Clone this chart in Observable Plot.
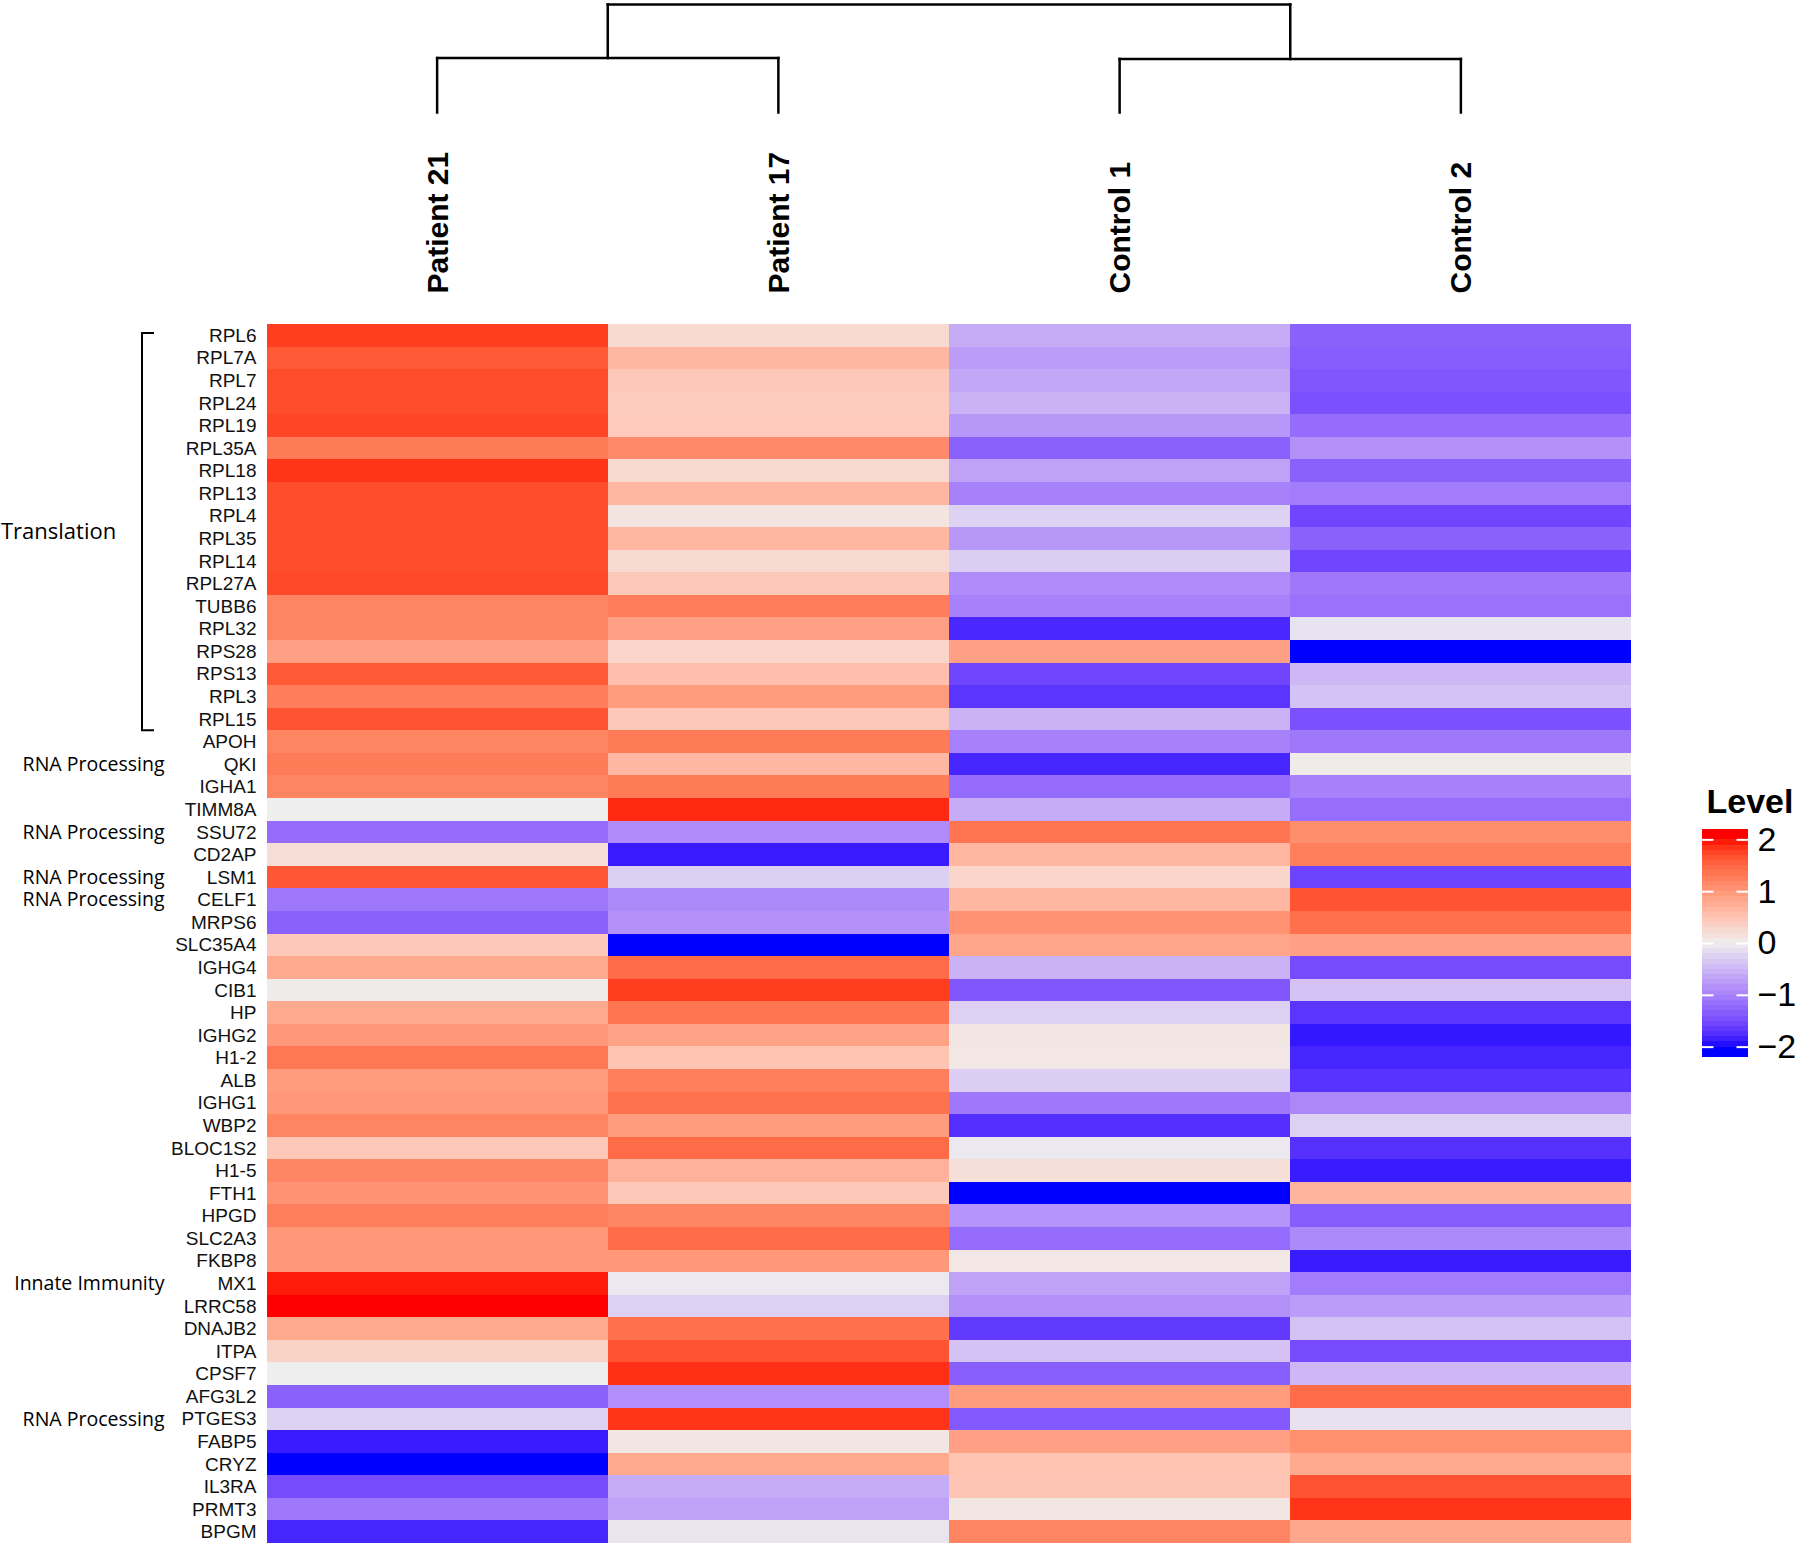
<!DOCTYPE html>
<html>
<head>
<meta charset="utf-8">
<script src="https://cdn.jsdelivr.net/npm/d3@7"></script>
<script src="https://cdn.jsdelivr.net/npm/@observablehq/plot@0.6"></script>
<style>
html, body { margin: 0; padding: 0; background: #fff; }
#root { position: relative; width: 1800px; height: 1544px; overflow: hidden; background: #fff; }
#root > svg { position: absolute; }
</style>
</head>
<body>
<div id="root"></div>
<script>
// ---------------- data ----------------
const samples = ["Patient 21", "Patient 17", "Control 1", "Control 2"];

const genes = ["RPL6","RPL7A","RPL7","RPL24","RPL19","RPL35A","RPL18","RPL13","RPL4","RPL35",
  "RPL14","RPL27A","TUBB6","RPL32","RPS28","RPS13","RPL3","RPL15","APOH","QKI",
  "IGHA1","TIMM8A","SSU72","CD2AP","LSM1","CELF1","MRPS6","SLC35A4","IGHG4","CIB1",
  "HP","IGHG2","H1-2","ALB","IGHG1","WBP2","BLOC1S2","H1-5","FTH1","HPGD",
  "SLC2A3","FKBP8","MX1","LRRC58","DNAJB2","ITPA","CPSF7","AFG3L2","PTGES3","FABP5",
  "CRYZ","IL3RA","PRMT3","BPGM"];

const patient21 = [1.8,1.6,1.7,1.7,1.75,1.3,1.85,1.7,1.7,1.7,
  1.7,1.72,1.2,1.2,0.9,1.6,1.27,1.65,1.2,1.3,
  1.2,0.0,-1.2,0.2,1.62,-1.1,-1.3,0.45,0.8,0.03,
  0.8,1.0,1.32,0.95,1.0,1.2,0.45,1.18,1.05,1.25,
  1.0,1.0,1.95,2.0,0.8,0.32,0.0,-1.3,-0.25,-1.88,
  -2.0,-1.5,-1.1,-1.82];

const patient17 = [0.25,0.65,0.45,0.4,0.42,1.15,0.25,0.65,0.12,0.65,
  0.22,0.45,1.27,0.9,0.3,0.55,0.95,0.45,1.3,0.65,
  1.3,1.9,-0.9,-1.88,-0.28,-0.92,-0.85,-2.0,1.45,1.8,
  1.35,0.88,0.5,1.25,1.38,0.95,1.45,0.7,0.45,1.18,
  1.43,1.0,-0.05,-0.27,1.4,1.65,1.87,-0.88,1.85,0.1,
  0.8,-0.6,-0.7,-0.08];

const control1 = [-0.6,-0.75,-0.65,-0.55,-0.8,-1.3,-0.7,-1.0,-0.25,-0.8,
  -0.3,-0.9,-1.0,-1.8,0.9,-1.55,-1.7,-0.55,-1.0,-1.82,
  -1.2,-0.6,1.35,0.65,0.3,0.65,1.05,0.85,-0.55,-1.4,
  -0.27,0.1,0.08,-0.3,-1.1,-1.75,-0.05,0.18,-2.0,-0.82,
  -1.2,0.08,-0.7,-0.85,-1.65,-0.4,-1.32,0.95,-1.38,0.9,
  0.5,0.48,0.1,1.2];

const control2 = [-1.3,-1.35,-1.4,-1.45,-1.2,-0.85,-1.3,-1.05,-1.55,-1.3,
  -1.55,-1.1,-1.15,-0.1,-2.0,-0.5,-0.4,-1.45,-1.1,0.05,
  -1.0,-1.18,1.1,1.25,-1.57,1.65,1.4,0.9,-1.5,-0.4,
  -1.7,-1.9,-1.82,-1.72,-0.95,-0.27,-1.73,-1.88,0.68,-1.35,
  -0.92,-1.88,-1.05,-0.75,-0.4,-1.5,-0.5,1.43,-0.12,1.08,
  0.8,1.65,1.85,0.82];

// dendrogram over the samples
const clusterNames = ["Patients", "Controls", "All"];
const clusterChildren = [["Patient 21", "Patient 17"], ["Control 1", "Control 2"], ["Patients", "Controls"]];
const clusterHeights = [5.5, 5.4, 10.9];

// row annotations
const annotationLabels = ["RNA Processing", "RNA Processing", "RNA Processing", "RNA Processing", "Innate Immunity", "RNA Processing"];
const annotationGenes = ["QKI", "SSU72", "LSM1", "CELF1", "MX1", "PTGES3"];
const bracketLabel = "Translation";
const bracketGenes = ["RPL6", "RPL15"];

// legend
const legendTitle = "Level";
const legendTicks = [-2, -1, 0, 1, 2];

// ---------------- build ----------------
const series = [patient21, patient17, control1, control2];
const cells = genes.flatMap((g, i) => samples.map((s, j) => ({gene: g, sample: s, value: series[j][i]})));

const colorOpts = {type: "linear", domain: [-2, 0, 2], range: ["blue", "#EEEEEE", "red"], interpolate: d3.interpolateLab, clamp: true};
const sansFont = "'Liberation Sans', Arial, sans-serif";
const annoFont = "'Open Sans', 'Noto Sans', sans-serif";

const root = document.getElementById("root");

// dendrogram + column labels
const nodes = new Map(samples.map((s, i) => [s, {x: i + 0.5, h: 0}]));
clusterNames.forEach((n, k) => {
  const [a, b] = clusterChildren[k].map(c => nodes.get(c));
  nodes.set(n, {x: (a.x + b.x) / 2, h: clusterHeights[k]});
});
const segs = [];
clusterNames.forEach((n, k) => {
  const p = nodes.get(n);
  const [a, b] = clusterChildren[k].map(c => nodes.get(c));
  segs.push({x1: a.x, y1: a.h, x2: a.x, y2: p.h});
  segs.push({x1: b.x, y1: b.h, x2: b.x, y2: p.h});
  segs.push({x1: a.x, y1: p.h, x2: b.x, y2: p.h});
});

const dendro = Plot.plot({
  width: 1800, height: 324,
  marginLeft: 266, marginRight: 169, marginTop: 4, marginBottom: 212,
  style: {fontFamily: sansFont, background: "transparent", color: "#000"},
  x: {domain: [0, samples.length], axis: null},
  y: {domain: [0, d3.max(clusterHeights)], axis: null},
  marks: [
    Plot.link(segs, {x1: "x1", y1: "y1", x2: "x2", y2: "y2", stroke: "black", strokeWidth: 2.5, strokeLinecap: "square"}),
    Plot.text(samples, {x: (d, i) => i + 0.5, text: d => d, frameAnchor: "bottom", rotate: -90, textAnchor: "start", lineAnchor: "middle", dx: 1, dy: 181, fontWeight: "bold", fontSize: 30, fill: "black"})
  ]
});
dendro.style.left = "0px";
dendro.style.top = "0px";
root.appendChild(dendro);

// bracket for the translation group
function bracketMark(index, scales, values, dims) {
  const y = scales.y;
  const bw = (dims.height - dims.marginTop - dims.marginBottom) / genes.length;
  const top = y(bracketGenes[0]) + bw * 0.4;
  const bottom = y(bracketGenes[1]) + bw;
  const x0 = dims.marginLeft - 124, x1 = x0 + 12;
  const g = d3.create("svg:g");
  g.append("path")
    .attr("d", `M${x1},${top}H${x0}V${bottom}H${x1}`)
    .attr("fill", "none").attr("stroke", "black").attr("stroke-width", 2);
  g.append("text")
    .attr("x", 1).attr("y", (top + bottom) / 2).attr("dy", "0.35em")
    .attr("text-anchor", "start")
    .attr("font-family", annoFont).attr("font-size", 22).attr("fill", "black")
    .text(bracketLabel);
  return g.node();
}

const heat = Plot.plot({
  width: 1800, height: 1220,
  marginLeft: 266, marginRight: 169, marginTop: 0, marginBottom: 1,
  style: {fontFamily: sansFont, fontSize: "19px", background: "transparent", color: "#111"},
  x: {domain: samples, axis: null, padding: 0},
  y: {domain: genes, padding: 0, tickSize: 0, tickPadding: 10, label: null},
  color: colorOpts,
  marks: [
    Plot.cell(cells, {x: "sample", y: "gene", fill: "value", inset: 0, shapeRendering: "crispEdges"}),
    Plot.text(annotationGenes.map((g, i) => ({gene: g, label: annotationLabels[i]})),
      {y: "gene", text: "label", frameAnchor: "left", dx: -102, textAnchor: "end", fontFamily: annoFont, fontSize: 19.5, fill: "black"}),
    bracketMark
  ]
});
heat.style.left = "0px";
heat.style.top = "324px";
root.appendChild(heat);

// legend
const legendStops = d3.range(-22, 22).map(k => k / 10);
const legend = Plot.plot({
  width: 110, height: 300,
  marginLeft: 12, marginRight: 52, marginTop: 59, marginBottom: 13,
  style: {fontFamily: sansFont, background: "transparent", color: "#000", overflow: "visible"},
  x: {domain: [0, 1], axis: null},
  y: {domain: [-2.2, 2.2], axis: null},
  color: colorOpts,
  marks: [
    Plot.rect(legendStops, {x1: 0, x2: 1, y1: d => d, y2: d => d + 0.1, fill: d => d + 0.05, shapeRendering: "crispEdges"}),
    Plot.ruleY(legendTicks, {y: d => d, x1: 0, x2: 0.25, stroke: "white", strokeWidth: 2}),
    Plot.ruleY(legendTicks, {y: d => d, x1: 0.75, x2: 1, stroke: "white", strokeWidth: 2}),
    Plot.text(legendTicks, {x: 1, y: d => d, text: d => d < 0 ? "\u2212" + (-d) : String(d), textAnchor: "start", dx: 9, fontSize: 34, fill: "black"}),
    Plot.text([legendTitle], {frameAnchor: "top-left", text: d => d, dx: 4, dy: -17, lineAnchor: "bottom", textAnchor: "start", fontWeight: "bold", fontSize: 34, fill: "black"})
  ]
});
legend.style.left = "1690px";
legend.style.top = "770px";
root.appendChild(legend);
</script>
</body>
</html>
